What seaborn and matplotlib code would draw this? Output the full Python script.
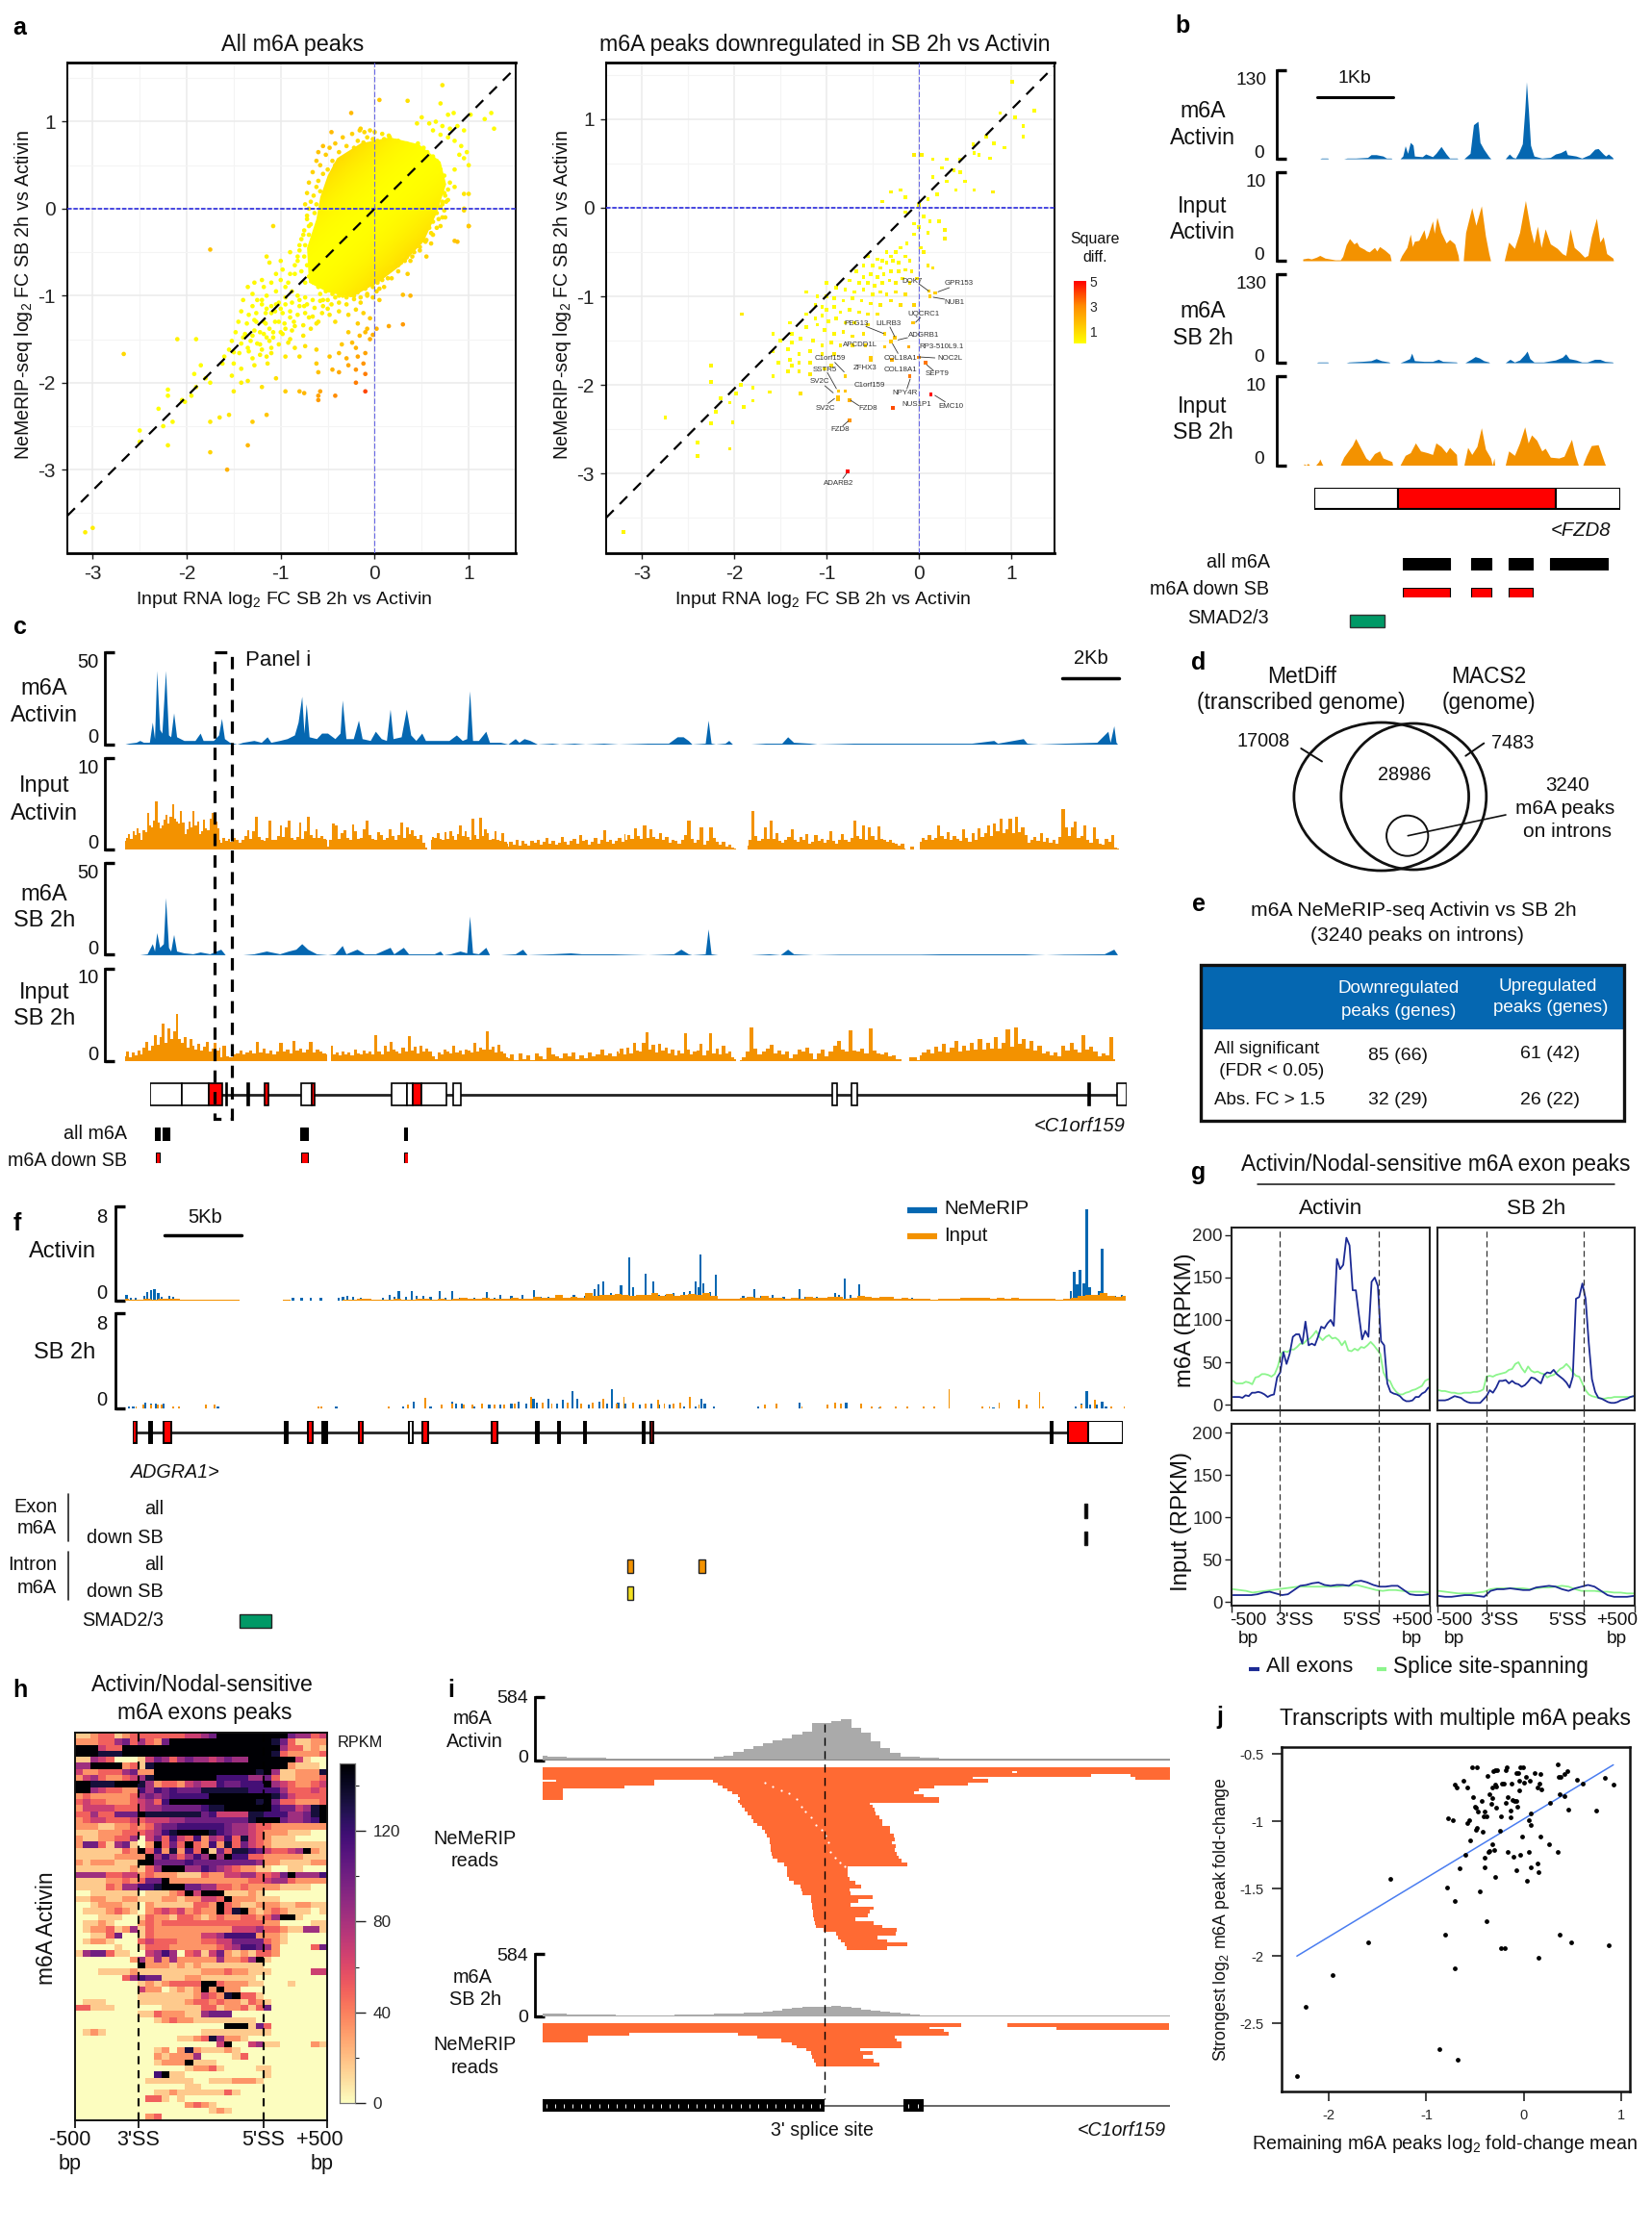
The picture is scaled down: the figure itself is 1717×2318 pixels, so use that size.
import numpy as np
import seaborn as sns
import matplotlib.pyplot as plt
from matplotlib.cm import ScalarMappable
from matplotlib.colors import LinearSegmentedColormap, Normalize
from matplotlib.patches import Ellipse, Rectangle

W, H = 1717, 2318

# ---- panel a: peaks outside the dense core (input FC, m6A FC)
a_all = [(.05,1.25),(.35,1.24),(.72,1.42),(.7,1.21),(-.25,1.1),(1.24,1.1),(1.17,1.03),(.84,1.1),(1.02,1.08),(1.27,.92),
    (-.46,.88),(-.16,.9),(-.11,.88),(.45,.98),(.5,1.05),(.58,.98),(.65,1.0),(.72,.95),(.78,1.08),(.8,.92),(.88,.95),(.95,.9),
    (.62,.9),(.7,.85),(.78,.82),(.85,.78),(.92,.72),(.98,.65),(.9,.62),(.95,.58),(1.0,.5),(.85,.45),(.8,.3),(.85,.25),
    (.95,.17),(1.0,.17),(.95,-.02),(1.0,-.2),(.85,-.37),(.75,-.1),(.7,-.2),(.72,.05),(.78,.1),(.6,-.4),(.55,-.55),(.4,-.55),
    (.38,-.6),(.35,-.75),(.25,-.65),(.38,-1.0),(.3,-1.33),(.15,-1.35),(.02,-1.38),(-.02,-1.45),(.18,-.8),(.1,-.9),(.02,-.95),
    # rim of the dense core
    (-.6,.65),(-.62,.55),(-.66,.42),(-.7,.3),(-.72,.18),(-.74,.05),(-.72,-.08),(-.7,-.2),(-.76,-.3),(-.8,-.42),(-.82,-.55),(-.85,-.65),
    (-.42,.75),(-.34,.82),(-.24,.86),(-.15,.92),(-.05,.9),(.0,.88),(.08,.86),(.15,.84),(.25,.78),(.3,.74),(.38,.7),(.42,.66),(.5,.6),(.56,.56),
    (.6,.48),(.66,.42),(.7,.35),(.72,.28),(.74,.18),(.76,.08),(.74,-.02),(.72,-.1),(.66,-.22),(.62,-.3),(.55,-.36),(.48,-.44),(.42,-.5),(.34,-.56),
    (.28,-.62),(.2,-.68),(.12,-.74),(.05,-.8),(-.02,-.86),(-.1,-.9),(-.18,-.94),(-.26,-.98),(-.34,-1.0),(-.42,-1.02),(-.5,-1.05),(-.58,-1.06),
    (-.66,-1.05),(-.74,-1.02),(-.82,-1.0),(-.88,-.95),(-.92,-.85),(-.9,-.75),(-.55,.72),(-.48,.7),(-.52,.62),(-.58,.5),(.46,.72),(.62,.56),(.68,.5),
    (-.5,.45),(-.55,.4),(-.6,.32),(-.62,.25),(-.58,.2),(-.65,.15),(-.68,.08),(-.62,.05),(-.7,.0),(-.64,-.05),(-.72,-.12),(-.68,-.18),(-.75,-.25),(-.7,-.3),
    (-.78,-.35),(-.74,-.42),(-.8,-.48),(-.75,-.55),(-.82,-.6),(-.72,-.65),(-.78,-.72),(-.85,-.75),(-.7,-.78),(-.74,-.85),(-.65,-.85),(-.6,-.9),(-.52,-.95),
    (-.58,-.98),(-.45,-.98),(-.38,-1.0),(-.3,-1.02),(-.22,-1.0),(-.15,-1.02),(-.08,-.98),(-.18,-.96),(-.1,-.92),(-.02,-.9),(.03,-.85),(.08,-.82),(.1,-.75),
    (.16,-.7),(.18,-.62),(-.42,.5),(-.35,.58),(-.45,.55),(-.38,.65),(-.28,.62),(-.3,.72),(-.22,.7),(-.18,.78),(-.12,.76),(-.08,.82),(-.02,.8),(.03,.78),(.1,.8),
    (.16,.82),(.22,.78),(.28,.74),(.34,.75),(.4,.72),(.46,.75),(.52,.7),(.56,.65),(.62,.6),(.66,.55),(.7,.45),(.74,.38),(.72,.3),(.78,.22),(.75,.15),(.72,.08),
    (.7,.02),(.66,-.05),(.68,-.12),(.62,-.15),(.58,-.22),(.6,-.28),(.52,-.3),(.54,-.38),(.46,-.42),(.48,-.48),(.4,-.48),(.36,-.52),(.3,-.55),(.32,-.6),(.24,-.65),
    (.25,-.72),(.14,-.8),(.05,-.92),
    # tail below the core
    (-1.08,-.2),(-.9,-.5),(-1.0,-.6),(-1.15,-.55),(-1.12,-.62),(-.98,-.7),(-1.05,-.75),(-1.2,-.82),(-1.28,-.85),(-1.35,-.9),(-1.3,-.98),(-1.18,-.9),(-1.1,-.85),(-1.0,-.82),
    (-.95,-.9),(-1.05,-.95),(-1.15,-1.0),(-1.25,-1.05),(-.95,-1.02),(-1.02,-1.08),(-.88,-1.08),(-.8,-1.12),(-.72,-1.1),(-.64,-1.14),(-.55,-1.12),
    (-.46,-1.1),(-.38,-1.08),(-.3,-1.1),(-.22,-1.04),(-.15,-1.08),(-.08,-1.0),(-.02,-1.02),(.05,-1.05),(-1.4,-1.05),(-1.42,-1.18),
    (-1.3,-1.12),(-1.2,-1.1),(-1.1,-1.12),(-1.34,-1.22),(-1.26,-1.2),(-1.16,-1.2),(-1.06,-1.18),(-.98,-1.2),(-.9,-1.18),(-.82,-1.22),(-.74,-1.2),(-.66,-1.24),
    (-.56,-1.2),(-.48,-1.22),(-.38,-1.18),(-.28,-1.22),(-.2,-1.16),(-.12,-1.2),(-.05,-1.26),(-1.45,-1.3),(-1.36,-1.32),(-1.26,-1.3),(-1.16,-1.32),(-1.06,-1.3),
    (-.96,-1.32),(-.86,-1.3),(-.76,-1.34),(-.62,-1.32),(-.42,-1.3),(-.18,-1.32),(-.08,-1.38),(-1.48,-1.42),(-1.38,-1.44),(-1.28,-1.4),(-1.18,-1.44),(-1.08,-1.42),
    (-.98,-1.44),(-.88,-1.4),(-.76,-1.46),(-.28,-1.42),(-.16,-1.46),(-.1,-1.42),(-1.52,-1.52),(-1.42,-1.55),(-1.32,-1.52),(-1.22,-1.56),
    (-1.12,-1.52),(-1.02,-1.56),(-.92,-1.54),(-.74,-1.58),(-.24,-1.54),(-.2,-1.6),(-.35,-1.56),(-.05,-1.5),(-1.55,-1.62),(-1.44,-1.66),(-1.34,-1.64),(-1.22,-1.68),
    (-1.1,-1.66),(-.95,-1.7),(-.62,-1.62),(-.48,-1.7),(-.38,-1.66),(-.3,-1.72),(-.18,-1.7),(-.1,-1.66),(-1.62,-1.78),(-1.5,-1.78),(-1.42,-1.84),(-1.28,-1.8),(-1.14,-1.78),
    (-1.2,-1.05),(-1.15,-1.15),(-1.1,-1.2),(-1.05,-1.1),(-1,-1.15),(-.95,-1.1),(-.9,-1.25),(-.85,-1.35),(-.8,-1.05),(-.75,-1.12),(-.7,-1.25),(-.68,-1.38),(-.6,-1.3),
    (-.55,-1.05),(-.5,-1.15),(-1.28,-1.28),(-1.22,-1.42),(-1.18,-1.3),(-1.12,-1.38),(-1.08,-1.48),(-1.02,-1.3),(-1.0,-1.42),(-.95,-1.38),(-.9,-1.5),(-1.3,-1.46),(-1.25,-1.55),
    (-1.15,-1.48),(-1.1,-1.6),(-1.35,-1.6),(-1.2,-1.62),(-1.15,-1.7),(-1.4,-1.48),(-1.5,-1.65),(-1.3,-1.72),(-1.6,-1.7),(-1.52,-1.92),(-.85,-1.6),(-.8,-1.7),
    (-.62,-1.78),(-.6,-1.88),(-.45,-1.85),(-.38,-1.88),(-.28,-1.8),(-.2,-1.85),(-.12,-1.78),(-1.9,-1.5),(-2.1,-1.5),
    (-1.75,-.47),(-2.67,-1.67),(-1.85,-1.8),(-1.92,-1.9),(-1.8,-1.95),(-1.75,-2.0),(-1.9,-2.05),(-1.5,-2.1),(-1.42,-2.0),(-1.35,-1.98),
    (-1.2,-2.05),(-1.05,-1.95),(-.95,-2.1),(-.8,-2.1),(-.75,-2.12),(-.6,-2.15),(-.58,-2.1),(-.6,-2.2),(-.42,-2.15),(-.1,-2.1),(-.2,-2.0),
    (-.1,-1.9),(-1.95,-2.15),(-2.05,-2.2),(-2.2,-2.15),(-2.2,-2.08),(-2.02,-2.22),(-2.3,-2.3),(-2.15,-2.45),(-2.25,-2.5),(-2.5,-2.55),
    (-2.5,-2.68),(-2.2,-2.72),(-1.75,-2.45),(-1.65,-2.4),(-1.75,-2.8),(-1.55,-2.37),(-1.3,-2.45),(-1.15,-2.37),(-1.35,-2.72),(-1.57,-3.0),
    (-3.0,-3.67),(-3.08,-3.72),(.3,-.99),(1.0,-.2),(.95,.0),(.88,-.38)]
a_core_x = [-.4,-.15,.16,.47,.7,.76,.66,.52,.28,.05,-.25,-.5,-.7,-.72,-.62,-.58,-.5]
a_core_y = [.58,.75,.82,.74,.54,.28,-.05,-.38,-.65,-.84,-1.02,-.96,-.85,-.45,-.12,.13,.38]

a_down = [(1.01,1.42),(1.25,1.1),(.88,1.07),(1.04,1.02),(1.13,.92),(1.13,.8),(.73,.8),(.81,.73),(.93,.68),(.59,.72),(.65,.6),(.77,.56),
    (.6,.62),(.45,.55),(.3,.55),(.38,.42),(.45,.4),(.25,.45),(.15,.35),(.3,.3),(.5,.3),(.2,.15),(.4,.2),(.6,.2),(.8,.18),(.1,.1),(-.05,.6),
    (.03,.6),(.15,.55),(-.3,.18),(-.2,.2),(-.15,.12),(-.4,.07),(-.15,-.05),(0,.03),(.05,-.1),(.12,-.15),(.22,-.15),(.28,-.25),(.1,-.28),
    (0,-.22),(-.05,-.18),(.28,-.35),(-.05,-.3),(-.13,-.4),(.02,-.45),(.05,-.5),(.1,-.65),(.15,-.68),(-.2,-.45),(-.25,-.5),(-.3,-.55),
    (-.35,-.5),(-.4,-.6),(-.45,-.58),(-.55,-.55),(-.6,-.65),(-.5,-.65),(-.42,-.68),(-.35,-.62),(-.28,-.6),(-.22,-.62),(-.15,-.55),(-.1,-.6),
    (-.08,-.72),(-.15,-.7),(-.22,-.72),(-.3,-.72),(-.38,-.75),(-.45,-.78),(-.52,-.75),(-.6,-.78),(-.68,-.72),(-.75,-.82),(-.65,-.85),
    (-.55,-.85),(-.48,-.88),(-.4,-.85),(-.32,-.82),(-.25,-.85),(-.18,-.8),(-.1,-.85),(-.02,-.8),(-1.0,-.85),(-.9,-.9),(-.8,-.92),(-.7,-.95),
    (-.6,-.92),(-.5,-.98),(-.42,-.95),(-.35,-.98),(-.25,-.95),(-.15,-.98),(-1.22,-.95),(-1.1,-1.0),(-1.0,-1.0),(-.92,-1.02),(-.82,-1.05),
    (-.72,-1.02),(-.62,-1.05),(-.52,-1.08),(-.42,-1.1),(-.3,-1.05),(-.2,-1.1),(-1.12,-1.1),(-1.05,-1.12),(-1.0,-1.15),(-.92,-1.12),
    (-.85,-1.18),(-.75,-1.15),(-.65,-1.18),(-.55,-1.2),(-.45,-1.2),(-.05,-1.1),(-1.22,-1.2),(-1.12,-1.25),(-1.05,-1.22),(-.98,-1.28),
    (-.9,-1.25),(-.8,-1.3),(-.7,-1.3),(-.55,-1.32),(-1.4,-1.3),(-1.38,-1.42),(-1.22,-1.35),(-1.1,-1.32),(-1.02,-1.38),(-.92,-1.42),
    (-.82,-1.4),(-.72,-1.45),(-.6,-1.42),(-1.58,-1.42),(-1.5,-1.5),(-1.38,-1.52),(-1.28,-1.48),(-1.15,-1.5),(-1.05,-1.55),(-.95,-1.52),
    (-.85,-1.55),(-.72,-1.55),(-.58,-1.55),(-1.58,-1.62),(-1.42,-1.6),(-1.3,-1.65),(-1.18,-1.62),(-1.05,-1.65),(-.92,-1.65),(-1.52,-1.75),
    (-1.4,-1.72),(-1.3,-1.75),(-1.18,-1.75),(-.95,-1.78),(-.52,-1.72),(-1.42,-1.85),(-1.38,-1.78),(-1.3,-1.85),(-1.18,-1.88),(-1.58,-1.9),
    (-1.02,-1.82),(-1.92,-1.2),(-2.25,-1.78),(-2.25,-1.97),(-1.93,-2.0),(-1.98,-2.1),(-1.8,-2.03),(-1.62,-2.08),(-1.28,-2.1),(-1.8,-2.18),
    (-2.15,-2.15),(-2.05,-2.2),(-1.9,-2.25),(-2.2,-2.3),(-2.02,-2.42),(-2.25,-2.43),(-2.75,-2.37),(-2.4,-2.65),(-2.4,-2.8),(-2.05,-2.72),
    (-3.2,-3.66),
    (.11,-.94),(.18,-.96),(.12,-1.0),(-.06,-1.3),(-.37,-1.42),(-.26,-1.47),(-.3,-1.51),(-.11,-1.57),(-.37,-1.57),(0,-1.69),(-.29,-1.72),
    (.07,-1.75),(-.52,-1.69),(-.8,-1.9),(-.8,-2.07),(-.87,-2.07),(-.1,-1.9),(.13,-2.11),(-.75,-2.17),(-.28,-2.26),(-.88,-2.14),(-.88,-2.16),
    (-.75,-2.4),(-.77,-2.98)]
a_gene_names = ['DOK7','GPR153','NUB1','UQCRC1','PEG13','LILRB3','ADGRB1','RP3-510L9.1','APCDD1L','COL18A1','NOC2L','C1orf159','ZFHX3',
    'SSTR5','COL18A1','SEPT9','SV2C','C1orf159','NPY4R','NUS1P1','EMC10','FZD8','SV2C','FZD8','ADARB2']
a_gene_x = [948,997,992,960,890,923,960,978,894,936,987,863,899,857,936,974,852,904,940,953,988,902,858,873,872]
a_gene_y = [292,294,314,326,336,336,349,360,359,372,373,372,383,384,385,389,397,400,408,421,422,425,424,447,502]

# ---- panel b: coverage tracks, (position, signal)
b_m6a_act = [(595,0),(600,1),(618,1),(620,0),(665,0),(675,1),(700,1),(735,2),(745,6),(760,6),(780,4),(790,1),(804,1),(806,0),(830,0),(838,4),
    (845,19),(852,8),(860,24),(868,20),(872,4),(895,3),(905,7),(925,3),(935,8),(950,18),(965,7),(975,1),(997,1),(999,0),(1017,0),(1035,8),
    (1045,50),(1058,55),(1064,24),(1075,14),(1090,3),(1096,0),(1138,0),(1150,7),(1160,2),(1168,1),(1178,10),(1188,22),(1195,70),(1200,113),
    (1206,70),(1212,20),(1222,4),(1245,1),(1270,2),(1285,7),(1300,9),(1315,13),(1320,6),(1345,4),(1362,1),(1385,6),(1400,14),(1410,15),
    (1425,7),(1432,4),(1440,7),(1452,2),(1454,0)]
b_inp_act = [(545,.2),(560,.3),(570,.2),(585,.4),(595,.6),(610,.3),(625,.2),(640,.1),(655,.1),(662,.5),(672,1.8),(682,2.5),(695,1.9),(703,2.1),(710,1.6),
    (725,1.3),(732,1.1),(740,1.0),(755,1.5),(762,1.1),(770,1.6),(785,1.2),(800,.7),(804,0),(828,0),(835,.6),(850,1.5),(860,3.0),(866,1.6),(872,2.2),(885,2.3),(900,3.5),
    (906,2.4),(912,2.9),(925,4.5),(930,3.1),(938,4.9),(950,3.2),(965,2.0),(975,2.4),(990,1.9),(1000,.6),(1002,0),(1015,0),(1022,3.2),(1040,6),(1052,4),(1068,6.2),
    (1080,2.8),(1090,.8),(1095,0),(1135,0),(1148,2.1),(1165,1.4),(1180,3.2),(1197,6.8),(1212,3.5),(1222,2),(1232,3.9),(1243,1.5),(1255,3.6),
    (1270,1.9),(1290,1.4),(1305,.8),(1315,.6),(1328,3.6),(1340,1.5),(1355,1),(1370,.4),(1380,.6),(1390,2.7),(1405,4.8),(1415,2.1),(1425,2.7),
    (1435,.8),(1453,.3),(1455,0)]
b_m6a_sb = [(585,0),(590,1),(618,1),(620,0),(672,0),(680,1),(720,2),(745,3),(760,6),(775,3),(798,1),(800,0),(830,0),(845,3),(858,6),(864,14),
    (872,3),(900,2),(925,2),(942,5),(955,2),(995,1),(997,0),(1020,0),(1038,5),(1050,9),(1062,7),(1075,3),(1090,1),(1092,0),(1138,0),(1152,5),
    (1165,1),(1180,4),(1195,12),(1202,17),(1210,6),(1222,1),(1250,1),(1285,4),(1305,8),(1315,13),(1325,6),(1345,4),(1362,1),(1378,1),
    (1400,5),(1415,5),(1430,2),(1452,1),(1454,0)]
b_inp_sb = [(548,.15),(555,0),(560,.2),(565,0),(583,0),(592,.4),(595,.7),(602,.1),(604,0),(655,0),(665,.9),(680,1.7),(690,2.2),(700,3.0),
    (715,1.9),(730,.8),(740,.5),(755,1.3),(770,1.6),(780,.8),(806,.4),(808,0),(830,0),(845,1.1),(860,1.4),(875,2.5),(890,1.6),(910,1.4),
    (925,1.2),(935,2.5),(950,2.1),(965,1.4),(975,2.0),(995,1.2),(997,0),(1017,0),(1028,2.0),(1040,1.2),(1055,2.1),(1068,4.2),(1080,1.8),
    (1095,.8),(1100,0),(1105,.8),(1107,0),(1138,0),(1148,1.6),(1165,1.1),(1180,2.5),(1195,4.3),(1205,2.5),(1215,3.4),(1230,2.8),(1245,1.6),
    (1255,1.9),(1270,.9),(1295,.8),(1310,1.0),(1320,1.9),(1332,2.9),(1342,1.2),(1352,0),(1365,0),(1375,1.0),(1390,2.2),(1410,2.3),(1420,1.2),
    (1430,.1),(1432,0)]
b_exon_start = [581,825,1287]
b_exon_end = [825,1287,1476]
b_exon_col = ['white','#ff0000','white']
b_peak_start = [840,1038,1149,1270]
b_peak_end = [976,1097,1218,1440]
b_down_start = [840,1038,1149]
b_down_end = [976,1097,1218]

# ---- panel c: tracks
c_m6a_act = [(170,0),(175,.5),(185,1),(190,2),(195,1),(203,1),(207,12),(210,3),(213,40),(217,8),(220,6),(225,40),(229,5),(232,4),(236,17),(240,4),
    (250,2),(265,2),(272,6),(276,2),(290,2),(297,5),(301,14),(305,3),(312,1),(322,0),(330,1),(345,2),(355,1),(363,4),(368,1),(380,2),(390,3),
    (400,5),(405,12),(410,26),(413,6),(416,22),(420,4),(430,3),(437,6),(445,6),(455,3),(462,6),(465,24),(470,3),(480,3),(487,13),(492,3),(503,2),
    (510,7),(518,3),(525,2),(530,19),(534,3),(545,4),(552,19),(558,5),(565,2),(573,6),(578,2),(590,2),(610,2),(620,5),(628,2),(634,3),(638,29),
    (642,2),(650,2),(660,7),(665,1),(680,1),(690,0),(700,3),(705,1),(712,3),(720,2),(730,0),(750,.5),(760,0),(780,.5),(795,0),(820,.5),(840,0),(880,.5),
    (908,.5),(920,4),(928,4),(935,2),(940,0),(958,.5),(962,13),(966,.5),(972,0),(985,.5),(990,2),(995,0),(1020,0),(1040,.5),(1062,.5),(1070,4),(1078,1),
    (1100,.5),(1110,0),(1160,.5),(1200,.5),(1220,.5),(1280,.5),(1320,.5),(1350,2),(1355,.5),(1390,3),(1395,.5),(1410,0),(1445,.5),(1490,1),(1505,7),(1508,1),
    (1513,10),(1516,1),(1518,0)]
c_m6a_sb = [(170,0),(190,0),(200,.5),(207,6),(210,2),(213,12),(217,4),(222,6),(225,31),(229,4),(232,2),(236,11),(240,2),(250,1),(262,.5),(272,1.5),(285,.5),
    (300,3),(306,0),(330,0),(345,.5),(362,2),(380,.5),(392,2),(402,3),(410,6),(418,3),(430,.5),(445,0),(455,.5),(465,5),(470,.5),(485,3),(495,.5),(510,.5),
    (530,4),(535,.5),(548,4),(555,.5),(570,.5),(590,.5),(598,2),(602,0),(612,.5),(625,2),(634,1),(638,21),(642,1),(650,.5),(660,4),(665,0),(680,0),(700,.5),
    (710,3),(716,0),(750,.5),(775,1),(790,.5),(830,.5),(880,0),(915,.5),(925,3),(935,.5),(940,0),(958,.5),(962,14),(966,.5),(975,0),(1020,0),(1045,.5),(1060,0),
    (1070,3),(1078,.5),(1105,0),(1140,.3),(1250,.3),(1280,.5),(1390,.5),(1420,0),(1445,.3),(1500,.5),(1513,3),(1518,0)]
c_inp_act = [(170,300,[.9,1.3,1.7,1.2,2,1.6,2.3,1.8,1,2.1,1.9,4,2.6,2.4,3.2,5.2,2.9,2.3,2.6,3.3,3.8,2.8,3.6,4.9,3.4,3,2.8,4.2,2.9,1.7,2.2,3,2.4,4.2,2.6,3,1.7,2,3.3,2.3,2.1,3.4,4,2.9,3,2.3,1]),
    (300,445,[.7,1.3,.9,1.2,.8,1.3,1,.7,1,1.5,2.1,1.2,2.0,3.6,1.4,1,.9,1.3,3.2,1.1,1.0,1.5,2.6,1.4,2.4,3.2,1.3,1.1,1.4,2.9,1.2,2,3.6,1.6,1.3,2.2,1.3,1.5,1.2,1.1]),
    (445,580,[.3,1,2.8,2.6,1.2,1.8,2.1,1.3,1.1,2.7,2.0,1.2,1.3,2.2,3.2,1.6,1.2,1,1.9,1.6,1.1,1.3,2.2,1.5,1.1,1.6,2.9,1.3,2.4,1.7,2.1,1.5,1.2,1.6,.7,.2]),
    (585,690,[1,1.4,1.3,1.8,1.2,1.1,1.9,1.2,2,1.5,1.1,1.7,2.6,1.5,2,1.4,1.1,3.4,1.6,1.2,3.5,1.5,2.2,1.8,1.1,1.2,2,1,.9,1.8,.8,.6]),
    (690,850,[.3,.8,.5,1,.4,.9,.6,.4,.9,.7,1.1,.5,.8,1.3,.6,.9,.5,.7,1.4,.8,.5,.9,1.2,.6,1.6,.9,1.1,.5,.8,1.3,.6,1,2.1,.8,1,.6,.9,1.3,.8,1.7]),
    (850,1000,[1,1.6,1.2,2.3,1.5,1.2,2.6,1.3,2.2,1.4,1.2,1.8,1,1.4,.7,1,.9,.6,1.1,1.6,3.2,1.2,.7,1.1,2.4,.5,.9,2.4,1.3,.8,.5,.8,.3,.5,.2,.1]),
    (1015,1230,[.4,1,4.2,1.5,.9,1.2,2.4,1.2,3.1,1.2,1.8,.9,.7,1,1.4,2.2,1.1,.8,1.4,1,1.7,.6,.8,1.6,.9,1.2,.7,1,2,.9,.6,1,1.7,1,.8,1.3,3.2,1.5,1.2,2.6,1.1,2.4,1.5,1.1,2.5,1.2,1,.8,1,.7,.6,.4,.6,.1]),
    (1237,1241,[.3,.3]),
    (1250,1520,[.8,1.3,1.1,1.6,1,1.3,2.6,1.5,1.2,1.9,1,1.5,1.2,.9,2.2,1.3,.8,1.8,1.1,2.3,1.4,1.8,2.6,1.5,2.8,2,3.4,1.8,2.2,3.4,1.8,3.6,1.9,2.4,1.6,.7,1,1.4,.9,1.8,.8,1.3,.7,1,.6,1.4,4.4,2.4,1.5,2.4,3,1.3,1.5,2.6,1.1,.7,2.4,1.2,.6,.5,1.2,.8,1.6,.2,.1])]
c_inp_sb = [(170,300,[.5,1,.4,.9,.6,1.1,.7,1.4,2,1.1,1.6,2.8,1.7,2.6,4,1.9,3.5,2.4,3.2,5.1,2.4,1.9,2.6,1.4,2.4,1.6,1.2,1.8,1.1,1.5,2.1,1,1.3,1.9,1.1,1.4]),
    (300,445,[.4,1.6,.5,.4,.7,.8,1.1,.7,.9,1.1,.8,2.1,.9,1.3,.8,1.1,.7,1,1.9,1,1.2,.8,2.2,1.1,1.3,.9,1.2,2.1,.9,1.2,1,.8,.7]),
    (450,690,[1.6,.7,.9,.6,1,.7,.9,.6,1.2,.8,.7,1.1,.8,1,.7,2.8,1,.7,1.6,1,2.1,1.2,1,.8,1.4,1,2.7,1.1,1.5,.8,1.6,1,1.3,1,.5,.2,.9,.7,1.2,1,.8,1.6,.9,1.1,.7,1.2,1.1,.9,1.9,1,1.4,1.2,3.2,1.2,1.5,.9,1.7,1,.8,.4]),
    (690,840,[.3,.7,.1,.8,.2,.6,.1,.8,.5,.2,1.4,.7,.5,.3,.8,.5,.9,.2,.6,.3,.9,.5,.7,1.2,.6,.8,.5,1]),
    (840,1000,[.8,1.3,.7,1.4,.8,1.9,1.1,1,1.9,3.1,1.2,1.7,.9,1.8,1.1,1.4,.8,1.2,.6,1.1,.8,3,1.2,.7,1,1.1,1.8,.6,1.1,3,.8,1.3,.7,1.6,.8,1,.4,.2]),
    (1005,1220,[.1,.4,1,3.6,1.3,.7,1,1.3,1.7,.8,1.1,.7,1,.3,.7,1.2,1,1.4,.8,.2,.8,1.2,.5,1,1.6,2.2,1.2,1,3.3,1.1,1,1.3,.8,3.5,1.1,.8,.7,.9,.5,.6,.2]),
    (1220,1250,[.2,0,.4,.1]),
    (1250,1515,[.6,.9,1.2,.8,1.5,1.0,1.8,.9,1.4,2.2,1,1.6,1.1,1.9,1.2,2.4,1.2,1.9,1.3,2.6,1.3,1.9,3.4,1.5,3.6,1.8,2.4,1.3,2.2,1.1,1.6,.8,1,.6,.9,.5,1.6,1.1,1.9,1.2,.9,2.8,1.2,1.5,1,.5,.8,.6,2.6,.2])]
c_exon_start = [205,248,285,308,337,360,410,424,533,553,562,573,616,1130,1156,1478,1517]
c_exon_end = [248,285,303,310,339,366,424,428,553,562,573,607,626,1137,1165,1480,1530]
c_exon_col = ['white','white','#ff0000','black','black','#ff0000','white','#ff0000','white','white','#ff0000','white','white','white','white','black','white']
c_all_start = [211,221,408,548]
c_all_end = [218,230,418,553]
c_down_start = [212,409,548]
c_down_end = [218,418,553]

# ---- panel d, e
d_counts = ['17008','7483','28986']
e_rows = ['All significant\n (FDR < 0.05)','Abs. FC > 1.5']
e_down = ['85 (66)','32 (29)']
e_up = ['61 (42)','26 (22)']

# ---- panel f: (position, signal) spikes for NeMeRIP, binned input
f_act_nem = [(172,.5),(178,.2),(184,.2),(196,.4),(200,.7),(205,.9),(210,1),(215,.6),(220,.3),(230,.4),(235,.3),(398,.2),(410,.2),(422,.2),(436,.2),(460,.2),(466,.3),(472,.4),
    (480,.3),(490,.2),(500,.1),(520,.2),(530,.5),(536,.3),(542,.8),(552,.3),(560,.8),(566,.4),(575,.4),(585,.3),(598,.8),(605,.2),(615,.8),(625,.2),(645,.2),(662,.7),(672,.2),(680,.5),
    (695,.4),(710,.5),(726,.9),(735,.3),(745,.3),(760,.2),(780,.5),(795,.4),(808,1.0),(813,1.4),(820,1.6),(830,.6),(844,1.3),(855,3.7),(860,1.1),(866,.5),(877,2.3),(888,1.6),(895,.5),
    (905,.5),(915,.6),(930,.7),(938,.8),(945,1.6),(950,1.1),(952,4),(956,1.5),(965,.7),(973,2.2),(990,.1),(1010,.4),(1018,.3),(1025,1),(1035,.4),(1050,.5),(1065,.3),(1087,1.0),(1095,.3),(1110,.3),
    (1120,.2),(1135,.6),(1140,.5),(1148,1.9),(1156,.5),(1168,1.4),(1175,.3),(1200,.2),(1240,.2),(1300,.1),(1355,.1),(1455,.8),(1460,2.5),(1464,1.4),(1468,2.6),(1473,1.5),(1477,7.9),(1481,1.1),(1487,.5),
    (1494,.8),(1498,4.5),(1503,.6),(1515,.4),(1525,.5)]
f_act_inp = [.1,.05,.05,.1,.05,.15,.15,.1,.05,.05,.02,.02,.02,.04,.03,.02,0,0,0,0,0,0,.02,0,0,0,0,0,0,0,.03,.05,.1,.1,.05,.04,.06,.1,.04,.08,.1,.1,.08,.15,.08,.1,.2,.1,.15,.2,.1,.18,.12,
    .22,.18,.15,.3,.22,.2,.45,.2,.3,.25,.65,.4,.45,.5,.55,.45,.4,.5,.45,.6,.35,.55,.4,.5,.55,.45,.65,.35,.1,.15,.1,.22,.3,.25,.35,.2,.25,.15,.25,.1,.3,.2,.25,.3,.3,.15,.25,.4,.3,.22,.28,.3,.18,.2,.15,.15,.12,
    .08,.14,.12,.18,.22,.2,.25,.25,.15,.2,.15,.2,.18,.1,.15,.12,.15,.08,.1,.25,.4,.45,.5,.6,.35,.3,.4]
f_sb_nem = [(175,.2),(181,.2),(197,.5),(205,.4),(212,.4),(222,.4),(296,.2),(457,.2),(548,.2),(562,.6),(585,.2),(600,.2),(615,.6),(620,.4),(628,.4),(645,.2),(665,.3),(680,.3),(695,.4),(705,.6),(715,.4),
    (725,.8),(730,.5),(745,.8),(757,.4),(765,.7),(778,1.5),(785,.8),(800,.3),(815,.6),(825,.4),(832,1.6),(840,.5),(850,.4),(870,.3),(885,.4),(895,.3),(910,.3),(930,.2),(945,.2),(953,.8),(958,.4),(970,.2),
    (1030,.2),(1055,.2),(1087,.5),(1135,.2),(1150,.5),(1170,.2),(1195,.1),(1350,.1),(1462,.2),(1470,.4),(1477,1.5),(1482,.3),(1490,.3),(1498,.6),(1503,.2)]
f_sb_inp = [(185,.2),(195,.3),(205,.3),(215,.3),(220,.3),(235,.2),(243,.2),(280,.3),(292,.3),(433,.2),(437,.2),(528,.2),(555,.3),(578,.9),(600,.3),(615,.4),(630,.3),(642,.3),(655,.4),(672,.3),(685,.3),
    (700,.4),(722,1.0),(738,.5),(750,.4),(772,.5),(790,.4),(805,.5),(820,.8),(838,.4),(848,1.0),(860,.5),(878,.4),(895,.7),(903,.4),(915,.4),(925,.5),(938,1.0),(950,.3),(1040,.3),(1055,.4),(1090,.2),(1125,.3),
    (1135,.5),(1143,.4),(1170,.4),(1185,.2),(1197,.2),(1218,.2),(1233,.2),(1255,.2),(1270,.2),(1290,1.6),(1335,.2),(1345,.2),(1358,.5),(1385,.7),(1395,.3),(1413,1.4),(1417,.2),(1470,.3),(1488,.7),(1510,.2),(1528,.2)]
f_exon_start = [181,204,223,388,419,438,488,556,575,669,729,758,794,873,884,1427,1451,1478]
f_exon_end = [187,208,233,391,426,445,494,562,582,676,732,761,797,876,888,1430,1478,1525]
f_exon_col = ['#ff0000','black','#ff0000','black','#ff0000','black','#ff0000','white','#ff0000','#ff0000','black','#a01010','#a01010','black','#a01010','black','#ff0000','white']
f_marks_x = [1474,1474,852,950,852,326]
f_marks_w = [4,4,9,8,9,43]
f_marks_row = [0,1,2,2,3,4]
f_marks_col = ['black','black','#f39200','#f39200','#f3e020','#009966']

# ---- panel g: RPKM profiles
g_act_all = [9,9,9,8,11,10,14,14,15,14,12,9,11,12,32,38,62,48,60,80,83,83,72,98,70,72,70,80,92,90,96,100,93,172,160,165,197,188,135,135,105,77,87,80,145,150,140,75,70,25,15,13,12,10,6,4,4,5,9,9,13,15,20]
g_act_ss = [28,25,25,25,27,26,24,32,33,36,36,35,33,36,45,60,63,62,65,65,68,72,72,76,78,82,87,80,76,80,82,78,79,76,70,75,64,63,66,64,68,67,70,74,70,65,60,38,30,28,20,15,12,12,14,15,17,18,20,22,28,30]
g_sb_all = [5,5,5,6,8,10,9,8,5,3,2,2,2,2,6,10,17,14,20,28,28,29,25,28,25,24,21,23,27,32,31,28,25,35,38,37,41,36,33,30,26,20,33,125,127,143,125,73,30,15,8,7,5,3,2,2,3,5,6,7,9,10]
g_sb_ss = [17,16,16,15,14,14,13,13,14,14,14,15,15,16,18,33,34,33,35,36,37,38,41,42,48,50,43,38,45,40,38,39,37,36,32,34,35,38,42,44,48,44,38,34,33,25,17,12,10,9,8,7,7,8,8,9,9,9,9,9,9,10]
g_act_all_inp = [8,8,8,8,9,11,12,10,8,9,14,19,20,22,23,20,19,20,20,19,24,25,23,20,18,18,19,19,14,9,8,8,9]
g_act_ss_inp = [15,14,13,11,12,13,14,15,16,17,18,18,18,18,18,18,18,19,19,20,18,16,14,13,14,14,13,12,12,12,11]
g_sb_all_inp = [7,6,6,7,8,8,7,6,13,15,15,16,15,14,14,17,18,19,18,15,13,16,18,20,18,13,8,6,6,6,7]
g_sb_ss_inp = [13,12,11,10,10,10,11,12,15,16,16,16,16,16,15,16,17,17,18,19,18,15,13,13,13,12,12,11,11,10,10]
g_ss_act = [.2435,.745]
g_ss_sb = [.25,.743]

# ---- panel h: heatmap rows, each digit is RPKM / 16.7, columns -500 bp to +500 bp
h_rows = [
 "11233123 33333344 56999999 99965534","22233563 53269999 99999999 98631122","99943399 99999999 99999999 99533121","99988899 99999999 99999999 98322223",
 "11543000 14653565 54565599 99994100","55999923 18999999 99999999 99921110","42233356 22999999 99999998 95112228","24532234 58999999 99777755 63112223",
 "99888999 85233245 44766777 95432234","99543322 75767666 88888877 77533343","23222223 56567777 79999999 98643333","34332223 45379999 99999998 96332223",
 "24444333 45566666 78899999 97664589","33533666 98888888 67444488 77755689","23443334 34445566 66666689 99655679","22211223 23566777 77765543 32222222",
 "11122233 34578999 98765543 22211100","21122335 04637437 25473843 21110000","26631561 02936393 27283643 21111111","11111132 93728273 91638876 43345921",
 "11111222 29575357 59597733 22222111","21222111 99666676 66666665 22111122","11111112 13599955 76543221 10011000","55553344 23222111 32244553 34695557",
 "11112232 36692222 22222233 45532222","11113255 77899966 55332322 22111100","00111111 01112394 99911121 00000000","11221122 11122122 44392221 11000000",
 "00122211 02111113 32932112 22112211","01112321 02343423 22938921 23211101","00011100 13221332 12322332 35991000","01121000 23233333 33333333 22000011",
 "01223125 13222222 22224445 33211551","00113600 13222222 44577772 22100000","01221000 34333222 33446666 32100000","00000100 13332222 22345776 52000036",
 "15663110 04575034 14621213 32000000","00000002 52525222 22522359 10000000","00000000 92221212 11111111 00000000","00011112 11111111 22232211 10000044",
 "00000035 76611122 11111110 00000000","00000000 12123333 99322211 00010000","00000000 42201212 92922000 00000000","00000000 11111112 43289331 00000000",
 "01110000 11111123 32322132 10000000","33111000 00011111 33122313 60000000","00000000 11322211 56660000 00000000","00000000 00123221 11111110 00000000",
 "00000000 00000000 00099916 30000000","01210000 00000000 11111111 10000000","00000000 00000112 38522100 00000000","00000000 00000000 00490045 11000021",
 "00000000 00120282 11121000 00000000","00000000 00212225 00001300 00000000","00000000 00122291 11000000 00000000","00000000 00000012 23100001 10000000",
 "00000000 00791100 00000000 10000000","00000000 01111110 01112221 00000000","00000000 00000011 00000000 00000000","00000000 00112111 11131000 00000000",
 "00000000 03310100 00000000 00000000","00000000 00000023 21000000 00000000","00000000 00000000 01210000 00000000","00000000 02300000 00000000 00000000"]
h_xticks = [0,8.1,23.96,32]

# ---- panel i: coverage and reads
i_cov_act = [41,34,27,24,22,20,19,17,17,14,14,10,10,10,10,12,14,17,27,44,75,105,130,160,180,205,235,265,340,340,360,380,300,255,170,115,70,35,30,24,20,15,14,12,10,10,10,10,10,10,11,11,12,12,12,10,10,12,14,14,14,14,14,14,14]
i_cov_sb = [24,24,20,17,17,14,14,12,10,10,10,10,10,10,12,12,14,17,20,24,27,30,34,44,55,65,75,85,85,85,95,90,75,60,50,40,30,20,14,10,10,7,5,5,5,5,5,5,5,5,5,5,5,5,5,5,5,5,5,5,5,5,5,5,5]
i_top_y = [308,316,316,324,324,332,332,340,340,348,348,356,356,364,364,372,372,380,380,388,388,396]
i_top_start = [242,242,1210,242,1440,242,1450,270,590,242,600,242,610,242,620,242,630,242,640,242,645,640]
i_top_end = [1521,1200,1521,1360,1521,1120,1521,470,1150,470,1110,410,1040,285,1010,285,1000,285,1020,285,1050,1050]
i_main_y = list(range(400,810,10))
i_main_start = [645,648,655,660,668,672,680,690,695,700,705,706,707,708,710,712,722,735,740,740,740,745,755,768,770,772,790,790,792,792,793,793,795,797,800,815,840,845,850,858,862]
i_main_end = [910,915,920,922,930,935,935,950,950,958,960,955,962,960,965,968,975,985,865,865,865,868,880,892,868,870,915,885,870,918,910,905,880,918,935,965,962,925,945,985,945]
i_gap_x = [695,712,730,745,760,770,778,790,800,812,820,825,830,838,848,858]
i_gap_y = [345,355,365,375,390,410,425,440,460,475,490,510,535,550,565,575]
i_sb_y = [1008,1008,1016,1016,1024,1032,1032,1040,1040,1048,1048,1056,1064,1072,1080,1090,1100,1110]
i_sb_start = [242,1190,242,1290,242,242,640,242,680,242,730,750,760,780,790,792,795,800]
i_sb_end = [1095,1520,1030,1520,1060,420,1070,335,960,335,965,975,975,890,915,895,917,930]
i_exon_start = [242,978]
i_exon_end = [818,1020]

# ---- panel j
j_points = [(-.53,-.60),(-.48,-.60),(-.31,-.63),(-.29,-.62),(-.27,-.62),(-.18,-.62),(-.17,-.60),(-.06,-.64),(-.04,-.60),(-.01,-.60),(-.08,-.64),(.11,-.64),(.17,-.65),(.35,-.58),(.36,-.67),(.38,-.67),
    (.42,-.65),(.45,-.63),(.55,-.69),(.61,-.72),(.83,-.68),(.92,-.73),(-.37,-.66),(-.62,-.70),(-.71,-.73),(-.69,-.75),(-.58,-.75),(-.29,-.73),(-.28,-.74),(-.32,-.75),(-.22,-.72),(-.2,-.72),(-.13,-.72),
    (-.05,-.70),(0,-.71),(.06,-.70),(.02,-.67),(.14,-.75),(.16,-.72),(.18,-.76),(-.05,-.77),(-.35,-.80),(-.52,-.82),(-.32,-.83),(-.16,-.82),(-.12,-.84),(-.1,-.85),(-.08,-.85),(-.18,-.86),(-.43,-.85),(-.33,-.87),
    (.37,-.80),(.42,-.81),(.27,-.86),(-.5,-.89),(-.49,-.90),(-.28,-.90),(-.07,-.89),(-.14,-.92),(-.47,-.93),(-.4,-.93),(-.41,-.96),(-.38,-.96),(-.23,-.96),(-.14,-.97),(.07,-.94),(.46,-.91),(.74,-.92),
    (-.78,-.98),(-.73,-.99),(-.58,-1.01),(-.56,-.99),(.05,-.99),(.07,-1.03),(-.49,-1.06),(-.48,-1.05),(-.42,-1.08),(-.24,-1.07),(-.55,-1.14),(-.02,-1.11),(.17,-1.11),(.26,-1.17),(-.32,-1.17),(-.35,-1.22),
    (-.3,-1.21),(-.36,-1.23),(-.16,-1.23),(.05,-1.23),(.35,-1.23),(-.6,-1.25),(-.4,-1.27),(-.11,-1.26),(-.04,-1.25),(-.66,-1.35),(-.4,-1.34),(-.08,-1.36),(.07,-1.34),(.14,-1.31),(.15,-1.38),(-.29,-1.41),(.03,-1.44),
    (-1.37,-1.43),(-.79,-1.49),(-.45,-1.52),(-.71,-1.59),(-.38,-1.74),(-.81,-1.84),(.37,-1.84),(-1.6,-1.90),(-.23,-1.94),(-.19,-1.94),(.49,-1.90),(.87,-1.92),(.15,-2.01),(-.71,-2.09),(-1.96,-2.14),(-2.24,-2.38),
    (-.87,-2.69),(-.68,-2.77),(-2.33,-2.89)]
j_fit_x = [-2.33,.92]
j_fit_y = [-2.0,-.58]

ORANGE = '#f39200'
BLUE = '#0567b1'
NAVY = '#1c2a94'
LGREEN = '#8cf58c'
READS = '#ff6a33'

sns.set_theme(style='white')
plt.rcParams['font.family'] = ['Liberation Sans', 'DejaVu Sans']
plt.rcParams['mathtext.default'] = 'regular'
plt.rcParams['axes.unicode_minus'] = False

fig = plt.figure(figsize=(W / 100, H / 100), dpi=100)


def box(x0, y0, x1, y1):
    return fig.add_axes([x0 / W, 1 - y1 / H, (x1 - x0) / W, (y1 - y0) / H])


def bracket(ax, px):
    # scale bracket on the left of a genome track
    for s in ['top', 'right', 'bottom']:
        ax.spines[s].set_visible(False)
    ax.spines['left'].set_position(('outward', px * .72))
    ax.spines['left'].set_linewidth(2)
    ax.spines['left'].set_color('black')
    ax.patch.set_alpha(0)
    ax.set_xticks([])
    ax.set_yticks(ax.get_ylim())
    ax.set_yticklabels([])
    ax.tick_params(axis='y', left=True, direction='in', length=7, width=2.4, color='black')


def track(rect, data, color, ymax, xlim, px):
    ax = box(*rect)
    x, y = zip(*data)
    ax.fill_between(x, y, 0, color=color, lw=0)
    ax.set_xlim(*xlim)
    ax.set_ylim(0, ymax)
    bracket(ax, px)
    return ax


def binned(rect, vals, color, ymax, xlim, px):
    ax = box(*rect)
    x = np.linspace(xlim[0], xlim[1], len(vals))
    ax.fill_between(x, vals, 0, color=color, lw=0, step='mid')
    ax.set_xlim(*xlim)
    ax.set_ylim(0, ymax)
    bracket(ax, px)
    return ax


def segmented(rect, segs, color, ymax, xlim, px):
    # coverage blocks, each block read at its own spacing
    ax = box(*rect)
    for a_, b_, v_ in segs:
        ax.fill_between(np.linspace(a_, b_, len(v_)), v_, 0, color=color, lw=0, step='mid')
    ax.set_xlim(*xlim)
    ax.set_ylim(0, ymax)
    bracket(ax, px)
    return ax


def gene(rect, xlim, starts, ends, cols, line, lw=1.2):
    ax = box(*rect)
    ax.plot(line, [.5, .5], color='#222222', lw=2)
    ax.bar(starts, [1] * len(starts), width=np.array(ends) - np.array(starts), bottom=0, align='edge',
           color=cols, edgecolor='black', lw=lw, zorder=3)
    ax.set_xlim(*xlim)
    ax.set_ylim(-.03, 1.03)
    ax.axis('off')
    return ax


def marks(rect, xlim, starts, ends, color, edge='black'):
    ax = box(*rect)
    ax.bar(starts, [1] * len(starts), width=np.array(ends) - np.array(starts), align='edge', color=color, edgecolor=edge, lw=.8)
    ax.set_xlim(*xlim)
    ax.set_ylim(0, 1)
    ax.axis('off')
    return ax


# ---- a
heat = LinearSegmentedColormap.from_list('sqdiff', [(0, '#ffff00'), (.2, '#ffd800'), (.6, '#ff8c00'), (1, '#ff0000')], N=256)


def scatter_a(ax, pts, xlim, ylim, xt, yt, diag, marker='o', size=11):
    x, y = zip(*pts)
    sq = (np.array(x) - np.array(y)) ** 2
    sns.scatterplot(x=x, y=y, hue=sq, hue_norm=(0, 5), palette=heat, marker=marker, s=size, linewidth=0, legend=False, ax=ax, zorder=3)
    ax.axhline(0, color='#3a3ae0', lw=1.3, ls=(0, (2.5, 1)), zorder=4)
    ax.axvline(0, color='#6a6ae6', lw=.8, ls=(0, (5, 2)), zorder=4)
    ax.plot(diag[0], diag[1], color='black', lw=1.6, ls=(0, (5, 4)), zorder=5)
    ax.set_xlim(*xlim)
    ax.set_ylim(*ylim)
    ax.set_xticks(xt)
    ax.set_yticks(yt)
    ax.set_xticks([-2.5, -1.5, -.5, .5], minor=True)
    ax.set_yticks([-3.5, -2.5, -1.5, -.5, .5, 1.5], minor=True)
    ax.grid(which='major', color='#ebebeb', lw=1.1)
    ax.grid(which='minor', color='#f4f4f4', lw=.8)
    ax.set_axisbelow(True)
    ax.tick_params(which='major', bottom=True, left=True, length=4, width=1, color='#222222', labelsize=15, pad=5)
    ax.tick_params(which='minor', bottom=False, left=False)
    for s in ax.spines.values():
        s.set_color('black')
        s.set_linewidth(1.4)
    ax.spines['top'].set_linewidth(2)
    ax.spines['bottom'].set_linewidth(2)


ax = box(70, 65, 536, 575)
core = ax.fill(a_core_x, a_core_y, color='none', lw=0)[0]
gx, gy = np.meshgrid(np.linspace(-1.2, 1.2, 200), np.linspace(-1.2, 1.2, 200))
shade = ax.imshow((gx - gy) ** 2, extent=(-1.2, 1.2, -1.2, 1.2), origin='lower', cmap=heat, norm=Normalize(0, 5), aspect='auto', zorder=2)
shade.set_clip_path(core)
scatter_a(ax, a_all, (-3.27, 1.5), (-3.96, 1.68), [-3, -2, -1, 0, 1], [-3, -2, -1, 0, 1], ([-3.27, 1.5], [-3.53, 1.62]))

ax = box(630, 65, 1096, 575)
scatter_a(ax, a_down, (-3.39, 1.47), (-3.9, 1.64), [-3, -2, -1, 0, 1], [-3, -2, -1, 0, 1], ([-3.39, 1.47], [-3.5, 1.6]), marker='s', size=7)

cax = box(1115.5, 292, 1128.5, 357)
cb = fig.colorbar(ScalarMappable(Normalize(0, 5), heat), cax=cax, ticks=[1, 3, 5])
cb.outline.set_visible(False)
cax.tick_params(labelsize=10, length=0, pad=3)

# ---- b
bx = (545, 1455)
track((1354, 73, 1677, 165), b_m6a_act, BLUE, 130, bx, 27)
track((1354, 179, 1677, 271), b_inp_act, ORANGE, 10, bx, 27)
track((1354, 285, 1677, 377), b_m6a_sb, BLUE, 130, bx, 27)
track((1354, 391, 1677, 483.5), b_inp_sb, ORANGE, 10, bx, 27)
gene((1366.4, 506.5, 1684.3, 529.5), (581, 1476), b_exon_start, b_exon_end, b_exon_col, [581, 1476], lw=1.5)
marks((1458, 580, 1672, 593), (840, 1440), b_peak_start, b_peak_end, 'black')
marks((1458, 610.6, 1672, 621.4), (840, 1440), b_down_start, b_down_end, '#ff0000')

# ---- c
cx = (170, 1520)
track((130, 678, 1163, 773.5), c_m6a_act, BLUE, 50, cx, 21)
segmented((130, 787.7, 1163, 883), c_inp_act, ORANGE, 10, cx, 21)
track((130, 896.7, 1163, 992.4), c_m6a_sb, BLUE, 50, cx, 21)
segmented((130, 1007, 1163, 1102.6), c_inp_sb, ORANGE, 10, cx, 21)
gene((156, 1125, 1171, 1150), (205, 1530), c_exon_start, c_exon_end, c_exon_col, [205, 1530])
marks((161, 1172, 424, 1185.7), (211, 553), c_all_start, c_all_end, 'black')
marks((161.7, 1197.5, 424, 1208.6), (212, 553), c_down_start, c_down_end, '#ff0000')

# ---- f
fx = (170, 1530)
ax = box(130, 1254.3, 1170, 1351.7)
px, hx = zip(*f_act_nem)
ax.bar(px, hx, width=3, color=BLUE, lw=0)
ax.fill_between(np.linspace(170, 1530, len(f_act_inp)), f_act_inp, 0, color=ORANGE, lw=0, step='mid')
ax.set_xlim(*fx)
ax.set_ylim(0, 8.1)
bracket(ax, 10)
ax = box(130, 1365, 1170, 1464)
px, hx = zip(*f_sb_nem)
ax.bar(px, hx, width=3, color=BLUE, lw=0)
px, hx = zip(*f_sb_inp)
ax.bar(px, hx, width=2.5, color=ORANGE, lw=0)
ax.set_xlim(*fx)
ax.set_ylim(0, 8.1)
bracket(ax, 10)
gene((137.7, 1476.7, 1167, 1500.7), (181, 1525), f_exon_start, f_exon_end, f_exon_col, [181, 1451], lw=1.4)
ax = box(130, 1562, 1170, 1694)
row_top = [1562.7, 1591.7, 1620.7, 1649.3, 1678.3]
row_h = [15, 14.3, 14, 14, 14]
for x_, w_, r_, c_ in zip(f_marks_x, f_marks_w, f_marks_row, f_marks_col):
    ax.bar(x_, row_h[r_], width=w_, bottom=row_top[r_], align='edge', color=c_, edgecolor='#222222', lw=1)
ax.set_xlim(*fx)
ax.set_ylim(1694, 1562)
ax.axis('off')


# ---- g
def profile(rect, all_v, ss_v, ss, ylim, bottom):
    ax = box(*rect)
    sns.lineplot(x=np.linspace(.006, .994, len(ss_v)), y=ss_v, color=LGREEN, lw=1.3, ax=ax)
    sns.lineplot(x=np.linspace(.006, .994, len(all_v)), y=all_v, color=NAVY, lw=1.3, ax=ax)
    ax.set_xlim(0, 1)
    ax.set_ylim(*ylim)
    ax.set_yticks([0, 50, 100, 150, 200])
    if rect[0] < 1400:
        ax.tick_params(axis='y', left=True, length=5, width=1, color='#222222', labelsize=13.5, pad=2)
    else:
        ax.set_yticklabels([])
    if bottom:
        ax.set_xticks([0, ss[0], ss[1], 1])
        ax.set_xticklabels([])
        ax.tick_params(axis='x', bottom=True, length=5, width=1, color='#222222')
    else:
        ax.set_xticks([])
    for s in ax.spines.values():
        s.set_color('#222222')
        s.set_linewidth(1.5)
    for v in ss:
        ax.axvline(v, color='#333333', lw=.9, ls=(0, (5, 3)))
    return ax


profile((1280.3, 1276.4, 1485.7, 1466), g_act_all, g_act_ss, g_ss_act, (-6.8, 208.6), False)
profile((1494, 1276.4, 1699, 1466), g_sb_all, g_sb_ss, g_ss_sb, (-6.8, 208.6), False)
profile((1280.3, 1480, 1485.7, 1668.6), g_act_all_inp, g_act_ss_inp, g_ss_act, (-4, 210.6), True)
profile((1494, 1480, 1699, 1668.6), g_sb_all_inp, g_sb_ss_inp, g_ss_sb, (-4, 210.6), True)

# ---- h
ax = box(77.7, 1801, 339.7, 2203.6)
cax = box(352.7, 1832.5, 369.3, 2186)
h_data = np.array([[int(c) * 16.7 for c in r.replace(' ', '').ljust(32, '0')[:32]] for r in h_rows])
sns.heatmap(h_data, cmap='magma_r', vmin=0, vmax=150, ax=ax, cbar_ax=cax, cbar_kws={'ticks': [0, 40, 80, 120]}, xticklabels=False, yticklabels=False)
for v in h_xticks[1:3]:
    ax.axvline(v, color='black', lw=1.5, ls=(0, (4, 3)))
ax.set_xticks(h_xticks)
ax.set_xticklabels([])
ax.tick_params(axis='x', bottom=True, length=6, width=1.2, color='black')
for s in ax.spines.values():
    s.set_visible(True)
    s.set_color('#111111')
    s.set_linewidth(1.4)
cax.tick_params(right=True, length=8, width=1, color='#222222', labelsize=12.3, pad=5)
cax.set_yticks([20, 60, 100, 140], minor=True)
cax.tick_params(which='minor', right=True, length=3, width=.8, color='#222222')
for s in cax.spines.values():
    s.set_visible(True)
    s.set_color('#777777')
    s.set_linewidth(.8)

# ---- i
ix = (242, 1521)
ax = binned((563.5, 1764, 1216, 1829.5), i_cov_act, '#aaaaaa', 584, ix, 8)
ax.axhline(0, color='#888888', lw=1.5)
ax = binned((563.5, 2030.8, 1216, 2095.7), i_cov_sb, '#aaaaaa', 584, ix, 8)
ax.axhline(0, color='#aaaaaa', lw=1.5)
ax = box(563.5, 1837.5, 1216, 2027)
y_ = i_top_y + i_main_y
s_ = np.array(i_top_start + i_main_start)
e_ = np.array(i_top_end + i_main_end)
ax.barh(y_, e_ - s_, left=s_, height=[9] * len(i_top_y) + [10] * len(i_main_y), color=READS, lw=0)
sns.scatterplot(x=i_gap_x, y=i_gap_y, color='white', s=2.5, linewidth=0, ax=ax)
ax.set_xlim(*ix)
ax.set_ylim(805, 304)
ax.axis('off')
ax = box(563.5, 2103, 1216, 2148)
ax.barh(i_sb_y, np.array(i_sb_end) - np.array(i_sb_start), left=i_sb_start, height=10, color=READS, lw=0)
ax.set_xlim(*ix)
ax.set_ylim(1116, 1004)
ax.axis('off')
ax = box(563.5, 2182, 1216, 2195)
ax.plot(ix, [.5, .5], color='#666666', lw=1.4)
ax.bar(i_exon_start, [1, 1], width=np.array(i_exon_end) - np.array(i_exon_start), align='edge', color='black', lw=0, zorder=3)
i_tick_x = list(range(250, 818, 18)) + [988, 1008]
sns.scatterplot(x=i_tick_x, y=[.5] * len(i_tick_x), marker='|', color='white', s=6, linewidth=.7, ax=ax, zorder=4)
ax.set_xlim(*ix)
ax.set_ylim(0, 1)
ax.axis('off')

# ---- j
ax = box(1331.7, 1816, 1694, 2174)
jx, jy = zip(*j_points)
sns.lineplot(x=j_fit_x, y=j_fit_y, color='#4a7df0', lw=1.1, ax=ax)
sns.scatterplot(x=jx, y=jy, color='black', s=12, linewidth=0, ax=ax, zorder=3)
ax.set_xlim(-2.49, 1.09)
ax.set_ylim(-3.005, -.448)
ax.set_xticks([-2, -1, 0, 1])
ax.set_yticks([-.5, -1, -1.5, -2, -2.5])
ax.set_yticklabels(['-0.5', '-1', '-1.5', '-2', '-2.5'])
ax.tick_params(bottom=True, left=True, length=7, width=1.2, color='#222222', labelsize=10.5, pad=6)
for s in ax.spines.values():
    s.set_color('#111111')
    s.set_linewidth(1.8)

# ---- everything laid over in figure pixels: labels, scale bars, venn, table
ov = fig.add_axes([0, 0, 1, 1], zorder=20)
ov.set_xlim(0, W)
ov.set_ylim(H, 0)
ov.axis('off')


def put(x, y, s, size=13, ha='center', va='center', **kw):
    ov.text(x, y, s, fontsize=size, ha=ha, va=va, color=kw.pop('color', '#111111'), **kw)


for s, x, y in [('a', 20, 29), ('b', 1228.6, 27), ('c', 20.7, 651.8), ('d', 1246, 689), ('e', 1246, 940), ('f', 17.6, 1271.7),
                ('g', 1246, 1218.6), ('h', 21, 1757.4), ('i', 469, 1757), ('j', 1268, 1785)]:
    put(x, y, s, size=18, fontweight='bold', color='black')

put(304.5, 47, 'All m6A peaks', 16.8)
put(857, 47, 'm6A peaks downregulated in SB 2h vs Activin', 16.7)
for x in (295, 855):
    put(x, 624, 'Input RNA log$_2$ FC SB 2h vs Activin', 14)
for x in (24, 584):
    put(x, 307, 'NeMeRIP-seq log$_2$ FC SB 2h vs Activin', 14.1, rotation=90)
put(1138, 248, 'Square', 11.4)
put(1138, 267, 'diff.', 11.4)
for name, x, y in zip(a_gene_names, a_gene_x, a_gene_y):
    put(x, y, name, 5.7, color='#333333')
a_links = [((465,135),(495,157)),((560,147),(525,160)),((545,183),(510,177)),((470,240),(455,255)),((300,268),(355,290)),((375,270),(390,300)),
           ((430,303),(400,310)),((400,352),(383,322)),((515,366),(465,363)),((203,380),(232,410)),((180,412),(208,462)),((510,405),(490,388)),
           ((172,453),(198,475)),((428,462),(438,432)),((547,503),(515,483)),((278,515),(252,498)),((182,508),(202,493)),((228,578),(245,563)),((228,742),(240,726))]
for p, q in a_links:
    ov.plot([800 + p[0] / 3, 800 + q[0] / 3], [250 + p[1] / 3, 250 + q[1] / 3], color='#333333', lw=.6)

# b labels
for x, y, s in [(1300,83,'130'),(1309,159,'0'),(1305,189.5,'10'),(1309,265,'0'),(1300,295,'130'),(1309,371.6,'0'),(1305,402,'10'),(1309,478,'0')]:
    put(x, y, s, 13.8)
for y, s in [(116,'m6A'),(143.5,'Activin'),(214.7,'Input'),(242,'Activin'),(323.5,'m6A'),(351,'SB 2h'),(423,'Input'),(450,'SB 2h')]:
    put(1250, y, s, 16.7)
put(1407.6, 81, '1Kb', 14)
ov.plot([1368.5, 1447.7], [101, 101], color='black', lw=2.2)
put(1643, 551.6, '<FZD8', 14.6, style='italic')
put(1320, 584, 'all m6A', 14.2, ha='right')
put(1319, 612.7, 'm6A down SB', 14.2, ha='right')
put(1319, 642, 'SMAD2/3', 14.2, ha='right')
ov.add_patch(Rectangle((1402.6, 638.8), 36.3, 13, facecolor='#009966', edgecolor='#333333', lw=1))

# c labels
for x, y, s in [(91.8,688.5,'50'),(96.4,767,'0'),(91.8,798.4,'10'),(96.4,877,'0'),(91.8,907.5,'50'),(96.4,986.7,'0'),(91.8,1016.5,'10'),(96.4,1096,'0')]:
    put(x, y, s, 14.5)
for y, s in [(715.7,'m6A'),(743.7,'Activin'),(817.5,'Input'),(845.5,'Activin'),(930,'m6A'),(957,'SB 2h'),(1032,'Input'),(1059.4,'SB 2h')]:
    put(46, y, s, 17)
put(254.8, 686.6, 'Panel i', 16, ha='left')
put(1134, 684.7, '2Kb', 14.5)
ov.plot([1104, 1163], [705.4, 705.4], color='black', lw=2.5)
ov.add_patch(Rectangle((223.4, 678), 17.6, 484.7, fill=False, edgecolor='black', lw=2.3, ls=(0, (4, 3))))
put(1122.4, 1170.4, '<C1orf159', 14.5, style='italic')
put(131.6, 1178, 'all m6A', 14.2, ha='right')
put(131.6, 1206, 'm6A down SB', 14.2, ha='right')

# d
ov.add_patch(Ellipse((1435.7, 828), 181.7, 154, fill=False, edgecolor='#111111', lw=2))
ov.add_patch(Ellipse((1469.3, 828), 151, 152, fill=False, edgecolor='#111111', lw=2))
ov.add_patch(Ellipse((1462.7, 868.7), 43.3, 42, fill=False, edgecolor='#111111', lw=1.4))
ov.plot([1463.3, 1565], [868.7, 847], color='#111111', lw=1.2)
ov.plot([1352.3, 1374], [778, 791.5], color='#111111', lw=1.4)
ov.plot([1542.3, 1523.3], [772.6, 785.7], color='#111111', lw=1.4)
put(1352.7, 703, 'MetDiff', 16.4)
put(1352.7, 730.6, '(transcribed genome)', 16.4)
put(1547.7, 703, 'MACS2', 16.4)
put(1547.7, 730.6, '(genome)', 16.4)
put(1312.7, 771, d_counts[0], 14.3)
put(1571.7, 772.6, d_counts[1], 14.3)
put(1460, 805.7, d_counts[2], 14.3)
put(1629, 816, '3240', 14.8)
put(1626.7, 840, 'm6A peaks', 15)
put(1629, 864, 'on introns', 15)

# e
put(1469.3, 947, 'm6A NeMeRIP-seq Activin vs SB 2h', 15.2)
put(1472.7, 973, '(3240 peaks on introns)', 15.2)
ov.add_patch(Rectangle((1248.3, 1003), 439.4, 67, facecolor=BLUE, edgecolor='none'))
ov.add_patch(Rectangle((1248.3, 1003), 439.4, 162, fill=False, edgecolor='#111111', lw=2.4))
put(1454, 1028, 'Downregulated', 13.6, color='white')
put(1454, 1052, 'peaks (genes)', 13.6, color='white')
put(1609, 1025, 'Upregulated', 13.6, color='white')
put(1611.3, 1048, 'peaks (genes)', 13.6, color='white')
put(1262.3, 1090.5, 'All significant', 13.5, ha='left')
put(1262.3, 1114, ' (FDR < 0.05)', 13.5, ha='left')
put(1262.3, 1143, e_rows[1], 13.5, ha='left')
put(1453.3, 1098, e_down[0], 14)
put(1611.3, 1095.6, e_up[0], 14)
put(1453.3, 1143, e_down[1], 14)
put(1611.3, 1143, e_up[1], 14)

# f
put(105.6, 1265.7, '8', 14.5)
put(105.6, 1345, '0', 14.5)
put(105.6, 1376, '8', 14.5)
put(105.6, 1455.7, '0', 14.5)
put(65, 1301, 'Activin', 17)
put(67.3, 1406, 'SB 2h', 17)
put(212.7, 1265.7, '5Kb', 14.5)
ov.plot([170.6, 251], [1284, 1284], color='black', lw=2.5)
ov.plot([943.4, 974], [1258.3, 1258.3], color=BLUE, lw=4.5, solid_capstyle='butt')
ov.plot([943.4, 974], [1284.7, 1284.7], color=ORANGE, lw=4.5, solid_capstyle='butt')
put(981, 1257, 'NeMeRIP', 14.8, ha='left')
put(981, 1284, 'Input', 14.8, ha='left')
put(182, 1530, 'ADGRA1>', 14.2, style='italic')
put(36.7, 1566.7, 'Exon', 14.4)
put(38, 1589, 'm6A', 14.4)
put(33.7, 1626.7, 'Intron', 14.4)
put(38, 1650.7, 'm6A', 14.4)
ov.plot([71, 71], [1552.7, 1601.7], color='#222222', lw=1.2)
ov.plot([71, 71], [1613, 1662.7], color='#222222', lw=1.2)
for y, s in [(1569,'all'),(1598,'down SB'),(1626.7,'all'),(1655,'down SB'),(1684,'SMAD2/3')]:
    put(169.9, y, s, 14.3, ha='right')

# g
put(1492.3, 1211, 'Activin/Nodal-sensitive m6A exon peaks', 16.4)
ov.plot([1307.3, 1678.3], [1231, 1231], color='#111111', lw=1.1)
put(1382.7, 1256, 'Activin', 16.2)
put(1596.7, 1256, 'SB 2h', 16.2)
put(1231.7, 1372, 'm6A (RPKM)', 17.2, rotation=90)
put(1228.3, 1581, 'Input (RPKM)', 17.2, rotation=90)
for x, s in [(1297.7,'-500'),(1345,"3'SS"),(1415.3,"5'SS"),(1467.7,'+500'),(1511.3,'-500'),(1558.3,"3'SS"),(1628.7,"5'SS"),(1680.7,'+500')]:
    put(x, 1684.6, s, 13.8)
for x in (1297.7, 1467.7, 1511.3, 1680.7):
    put(x, 1704, 'bp', 13.8)
for x in (1330.3, 1433.3, 1545.3, 1646.3):
    ov.plot([x, x], [1466, 1480], color='#333333', lw=.9, ls=(0, (5, 3)))
ov.plot([1298.3, 1309], [1734.6, 1734.6], color=NAVY, lw=3, solid_capstyle='butt')
ov.plot([1430.7, 1441.3], [1734.6, 1734.6], color=LGREEN, lw=3, solid_capstyle='butt')
put(1316, 1733, 'All exons', 16, ha='left')
put(1448.3, 1733, 'Splice site-spanning', 16.3, ha='left')

# h
put(210, 1751.7, 'Activin/Nodal-sensitive', 16.6)
put(213, 1780, 'm6A exons peaks', 16.6)
put(374.7, 1811.5, 'RPKM', 11.7)
put(48.3, 2004, 'm6A Activin', 16.4, rotation=90)
for x, s in [(73,'-500'),(144,"3'SS"),(274,"5'SS"),(332,'+500')]:
    put(x, 2224.6, s, 15.5)
put(73, 2249, 'bp', 15.5)
put(335, 2249, 'bp', 15.5)

# i
put(533, 1765, '584', 14)
put(544, 1828, '0', 14)
put(533, 2034, '584', 14)
put(544, 2097.6, '0', 14)
for x, y, s in [(491,1786.7,'m6A'),(493.6,1810,'Activin'),(493.6,1911.5,'NeMeRIP'),(493.6,1935,'reads'),(491,2055.6,'m6A'),(493.6,2079,'SB 2h'),(493.6,2125.4,'NeMeRIP'),(493.6,2149.5,'reads')]:
    put(x, y, s, 14.3)
put(854.8, 2214.6, "3' splice site", 14.1)
put(1212, 2214.6, '<C1orf159', 14.1, ha='right', style='italic')
ov.plot([857.3, 857.3], [1792, 2182], color='black', lw=1, ls=(0, (6, 4)))

# j
put(1512.7, 1787, 'Transcripts with multiple m6A peaks', 16.6)
put(1269.3, 1995, 'Strongest log$_2$ m6A peak fold-change', 12.8, rotation=90)
put(1501, 2228, 'Remaining m6A peaks log$_2$ fold-change mean', 14.1)

fig.savefig('out.png', dpi=100, facecolor='white')
